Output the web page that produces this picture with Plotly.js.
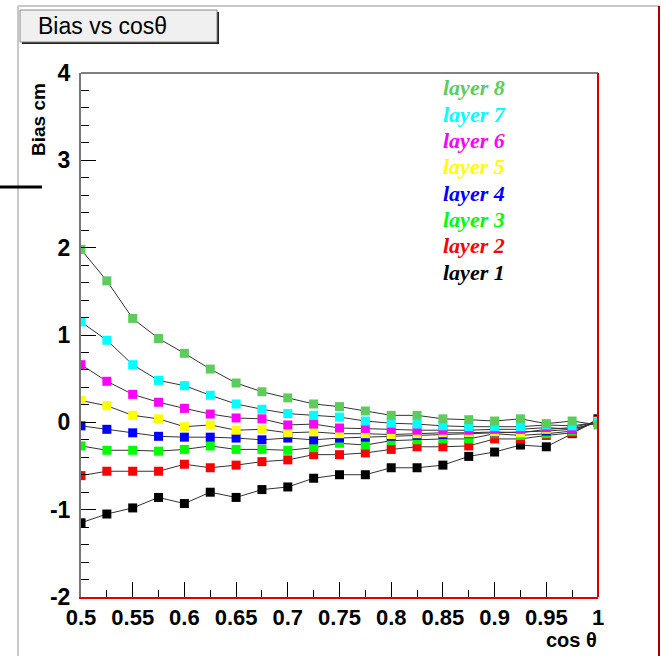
<!DOCTYPE html>
<html>
<head>
<meta charset="utf-8">
<script src="https://cdn.plot.ly/plotly-3.0.1.min.js"></script>
<style>html,body{margin:0;padding:0;background:#fff;}#chart{width:662px;height:656px;}</style>
</head>
<body>
<div id="chart"></div>
<script>
var cosTheta = [0.5,0.525,0.55,0.575,0.6,0.625,0.65,0.675,0.7,0.725,0.75,0.775,0.8,0.825,0.85,0.875,0.9,0.925,0.95,0.975,1.0];

var layer1 = [-1.15,-1.05,-0.98,-0.86,-0.93,-0.80,-0.86,-0.77,-0.74,-0.64,-0.60,-0.60,-0.52,-0.52,-0.49,-0.39,-0.34,-0.26,-0.28,-0.13,0.04];
var layer2 = [-0.61,-0.56,-0.56,-0.56,-0.48,-0.52,-0.49,-0.45,-0.43,-0.37,-0.37,-0.35,-0.31,-0.28,-0.28,-0.27,-0.19,-0.19,-0.15,-0.12,0.02];
var layer3 = [-0.27,-0.32,-0.32,-0.33,-0.31,-0.27,-0.31,-0.31,-0.32,-0.29,-0.24,-0.26,-0.21,-0.20,-0.19,-0.19,-0.13,-0.15,-0.13,-0.10,0.01];
var layer4 = [-0.04,-0.08,-0.12,-0.16,-0.17,-0.17,-0.18,-0.20,-0.18,-0.20,-0.18,-0.17,-0.16,-0.15,-0.14,-0.13,-0.12,-0.11,-0.10,-0.08,0.00];
var layer5 = [0.25,0.19,0.08,0.04,-0.05,-0.03,-0.09,-0.08,-0.12,-0.11,-0.13,-0.13,-0.14,-0.13,-0.12,-0.12,-0.11,-0.12,-0.08,-0.06,0.01];
var layer6 = [0.66,0.47,0.32,0.23,0.16,0.095,0.05,0.04,-0.03,-0.02,-0.065,-0.07,-0.08,-0.09,-0.09,-0.09,-0.08,-0.08,-0.06,-0.08,0.00];
var layer7 = [1.15,0.94,0.66,0.48,0.42,0.31,0.21,0.15,0.10,0.08,0.06,0.015,-0.01,-0.02,-0.04,-0.05,-0.05,-0.05,-0.03,-0.04,0.00];
var layer8 = [1.98,1.62,1.19,0.96,0.79,0.61,0.45,0.35,0.28,0.21,0.18,0.13,0.08,0.08,0.04,0.03,0.015,0.04,-0.015,0.015,-0.03];

var layerNames = ["layer 1","layer 2","layer 3","layer 4","layer 5","layer 6","layer 7","layer 8"];
var layerColors = ["#000000","#ff0000","#00ff00","#0000ff","#ffff00","#ff00ff","#00ffff","#5ccd5c"];
var layerData = [layer1,layer2,layer3,layer4,layer5,layer6,layer7,layer8];

var xTickVals = [0.5,0.55,0.6,0.65,0.7,0.75,0.8,0.85,0.9,0.95,1];
var xTickText = ["0.5","0.55","0.6","0.65","0.7","0.75","0.8","0.85","0.9","0.95","1"];
var yTickVals = [-2,-1,0,1,2,3,4];
var yTickText = ["-2","-1","0","1","2","3","4"];

var chartTitle = "Bias vs cosθ";
var xTitle = "cos θ";
var yTitle = "Bias cm";

// pixel geometry helpers
var L = 81, R = 598, T = 73, B = 597;
function px(x){ return (x - L) / (R - L); }
function py(y){ return (B - y) / (B - T); }

var narrowBold = 'Liberation Sans Narrow, Arial Narrow, Liberation Sans';

var traces = layerData.map(function(d, i){
  return {
    x: cosTheta, y: d, type: 'scatter', mode: 'lines+markers',
    name: layerNames[i],
    line: {color: '#333333', width: 1},
    marker: {symbol: 'square', size: 9, color: layerColors[i], line: {width: 0}},
    showlegend: false, hoverinfo: 'x+y'
  };
});

var legendAnns = [];
for (var i = 7; i >= 0; i--) {
  var row = 7 - i;
  legendAnns.push({
    xref: 'paper', yref: 'paper', x: px(441), y: py(88 + row * 26.3),
    xanchor: 'left', yanchor: 'middle', showarrow: false,
    text: layerNames[i],
    font: {family: 'Liberation Serif', size: 22, color: layerColors[i], weight: 'bold', style: 'italic'}
  });
}

var annotations = legendAnns.concat([
  {xref: 'paper', yref: 'paper', x: px(36), y: py(26), xanchor: 'left', yanchor: 'middle',
   showarrow: false, text: chartTitle,
   font: {family: 'Liberation Sans', size: 23, color: '#000'}},
  {xref: 'paper', yref: 'paper', x: px(599), y: py(640), xanchor: 'right', yanchor: 'middle',
   showarrow: false, text: xTitle,
   font: {family: narrowBold, size: 20, color: '#000', weight: 'bold'}},
  {xref: 'paper', yref: 'paper', x: px(39), y: py(120), xanchor: 'center', yanchor: 'middle',
   textangle: -90, showarrow: false, text: yTitle,
   font: {family: 'Liberation Sans', size: 19, color: '#000', weight: 'bold'}}
]);

var shapes = [
  // canvas border lines
  {type: 'line', xref: 'paper', yref: 'paper', x0: px(18), x1: px(18), y0: py(6), y1: py(660), line: {color: '#c8c8c8', width: 2}},
  {type: 'line', xref: 'paper', yref: 'paper', x0: px(18), x1: px(659), y0: py(6), y1: py(6), line: {color: '#c8c8c8', width: 2}},
  {type: 'line', xref: 'paper', yref: 'paper', x0: px(659), x1: px(659), y0: py(6), y1: py(660), line: {color: '#aa0000', width: 2}},
  // stray black mark at left
  {type: 'line', xref: 'paper', yref: 'paper', x0: px(0), x1: px(42), y0: py(187), y1: py(187), line: {color: '#000', width: 3}},
  // title box shadow and box
  {type: 'rect', xref: 'paper', yref: 'paper', x0: px(22), x1: px(219), y0: py(44), y1: py(12), line: {width: 0}, fillcolor: '#202020'},
  {type: 'rect', xref: 'paper', yref: 'paper', x0: px(20), x1: px(217), y0: py(42), y1: py(10), line: {color: '#888', width: 1}, fillcolor: '#f0f0f0'},
  // frame: top black, right red
  {type: 'line', xref: 'paper', yref: 'paper', x0: 0, x1: 1, y0: 1, y1: 1, line: {color: '#000', width: 1}},
  {type: 'line', xref: 'paper', yref: 'paper', x0: 1, x1: 1, y0: 0, y1: 1, line: {color: '#d00000', width: 2}}
];

var layout = {
  width: 662, height: 656,
  margin: {l: L, r: 662 - R, t: T, b: 656 - B, pad: 0},
  paper_bgcolor: '#ffffff', plot_bgcolor: '#ffffff',
  showlegend: false,
  xaxis: {
    range: [0.5, 1.0], tickmode: 'array', tickvals: xTickVals, ticktext: xTickText,
    ticks: 'inside', ticklen: 15, tickwidth: 1, tickcolor: '#000',
    minor: {dtick: 0.025, tick0: 0.5, ticks: 'inside', ticklen: 7, tickwidth: 1, tickcolor: '#000', showgrid: false},
    showgrid: false, zeroline: false, showline: true, linecolor: '#e00000', linewidth: 2,
    tickfont: {family: narrowBold, size: 22, color: '#000', weight: 'bold'},
    ticklabelstandoff: 0
  },
  yaxis: {
    range: [-2, 4], tickmode: 'array', tickvals: yTickVals, ticktext: yTickText,
    ticks: 'inside', ticklen: 15, tickwidth: 1, tickcolor: '#000',
    minor: {dtick: 0.2, tick0: -2, ticks: 'inside', ticklen: 8, tickwidth: 1, tickcolor: '#000', showgrid: false},
    showgrid: false, zeroline: false, showline: true, linecolor: '#777', linewidth: 2,
    tickfont: {family: narrowBold, size: 23, color: '#000', weight: 'bold'},
    ticklabelstandoff: 4
  },
  annotations: annotations,
  shapes: shapes
};

Plotly.newPlot('chart', traces, layout, {staticPlot: true, displayModeBar: false});
</script>
</body>
</html>
